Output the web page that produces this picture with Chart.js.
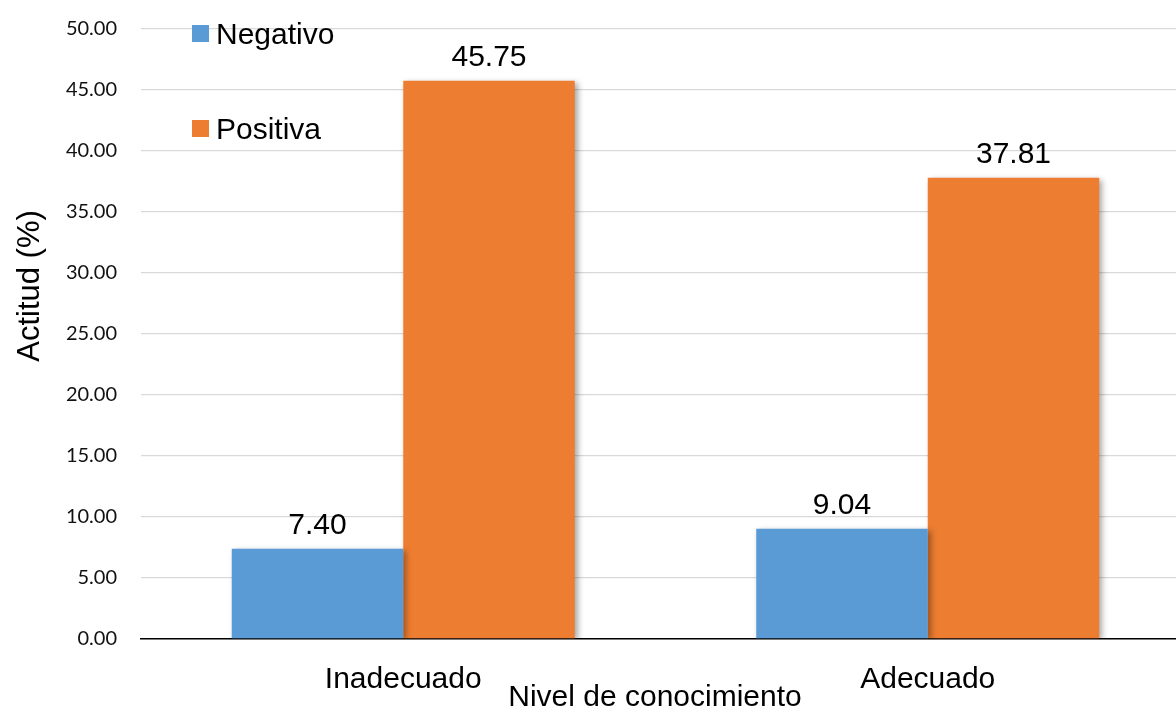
<!DOCTYPE html>
<html>
<head>
<meta charset="utf-8">
<script src="https://cdn.jsdelivr.net/npm/chart.js@4"></script>
<style>
  html, body { margin: 0; padding: 0; background: #fff; overflow: hidden; }
  #wrap { width: 1190px; height: 711px; position: relative; }
</style>
</head>
<body>
<div id="wrap"><canvas id="chart"></canvas></div>
<script>
// data
const categories = ["Inadecuado", "Adecuado"];
const negativo = [7.40, 9.04];
const positiva = [45.75, 37.81];
const seriesNames = ["Negativo", "Positiva"];
const yTicks = [0, 5, 10, 15, 20, 25, 30, 35, 40, 45, 50];
const yTitle = "Actitud (%)";
const xTitle = "Nivel de conocimiento";

const arial = "'Liberation Sans', Arial, sans-serif";

// shadow behind the bars
const barShadow = {
  id: "barShadow",
  beforeDatasetsDraw(chart) {
    const ctx = chart.ctx;
    ctx.save();
    ctx.shadowColor = "rgba(0,0,0,0.35)";
    ctx.shadowBlur = 6;
    ctx.shadowOffsetX = 3;
    ctx.shadowOffsetY = 2;
  },
  afterDatasetsDraw(chart) {
    chart.ctx.restore();
  }
};

// value labels, legend and axis titles
const extras = {
  id: "extras",
  afterDraw(chart) {
    const ctx = chart.ctx;
    ctx.save();
    ctx.fillStyle = "#000";
    ctx.font = "30px " + arial;
    ctx.textAlign = "center";
    ctx.textBaseline = "alphabetic";
    chart.data.datasets.forEach(function (ds, i) {
      chart.getDatasetMeta(i).data.forEach(function (bar, j) {
        ctx.fillText(ds.data[j].toFixed(2), bar.x, bar.y - 15);
      });
    });

    // legend
    const legendY = [44, 139];
    ctx.textAlign = "left";
    chart.data.datasets.forEach(function (ds, i) {
      ctx.fillStyle = ds.backgroundColor;
      ctx.fillRect(192, legendY[i] - 19, 17, 17);
      ctx.fillStyle = "#000";
      ctx.fillText(ds.label, 216, legendY[i]);
    });

    // x title
    ctx.textAlign = "center";
    ctx.fillText(xTitle, 655, 706);

    // y title
    ctx.font = "31px " + arial;
    ctx.translate(39, 286);
    ctx.rotate(-Math.PI / 2);
    ctx.fillText(yTitle, 0, 0);
    ctx.restore();
  }
};

const ctx = document.getElementById("chart").getContext("2d");
const myChart = new Chart(ctx, {
  type: "bar",
  data: {
    labels: categories,
    datasets: [
      { label: seriesNames[0], data: negativo, backgroundColor: "#5B9BD5" },
      { label: seriesNames[1], data: positiva, backgroundColor: "#ED7D31" }
    ]
  },
  options: {
    responsive: true,
    maintainAspectRatio: false,
    animation: false,
    layout: { padding: { top: 29, right: 0, left: 0, bottom: 0 } },
    datasets: {
      bar: { barPercentage: 1, categoryPercentage: 0.654 }
    },
    plugins: {
      legend: { display: false },
      tooltip: { enabled: false }
    },
    scales: {
      x: {
        grid: { display: false },
        border: { display: true, color: "#000", width: 1.5 },
        ticks: {
          color: "#000",
          padding: 15,
          font: { family: arial, size: 30 }
        },
        afterFit: function (scale) { scale.height = 72; }
      },
      y: {
        min: 0,
        max: 50,
        afterBuildTicks: function (scale) {
          scale.ticks = yTicks.map(function (v) { return { value: v }; });
        },
        grid: { color: "#D9D9D9", lineWidth: 1.3, drawTicks: false },
        border: { display: false },
        ticks: {
          color: "#111",
          padding: 24,
          font: { family: "Lato, 'Open Sans', sans-serif", size: 20 },
          callback: function (v) { return Number(v).toFixed(2); }
        },
        afterFit: function (scale) {
          scale.width = 141;
          scale.paddingTop = 0;
          scale.paddingBottom = 0;
        }
      }
    }
  },
  plugins: [barShadow, extras]
});
</script>
</body>
</html>
